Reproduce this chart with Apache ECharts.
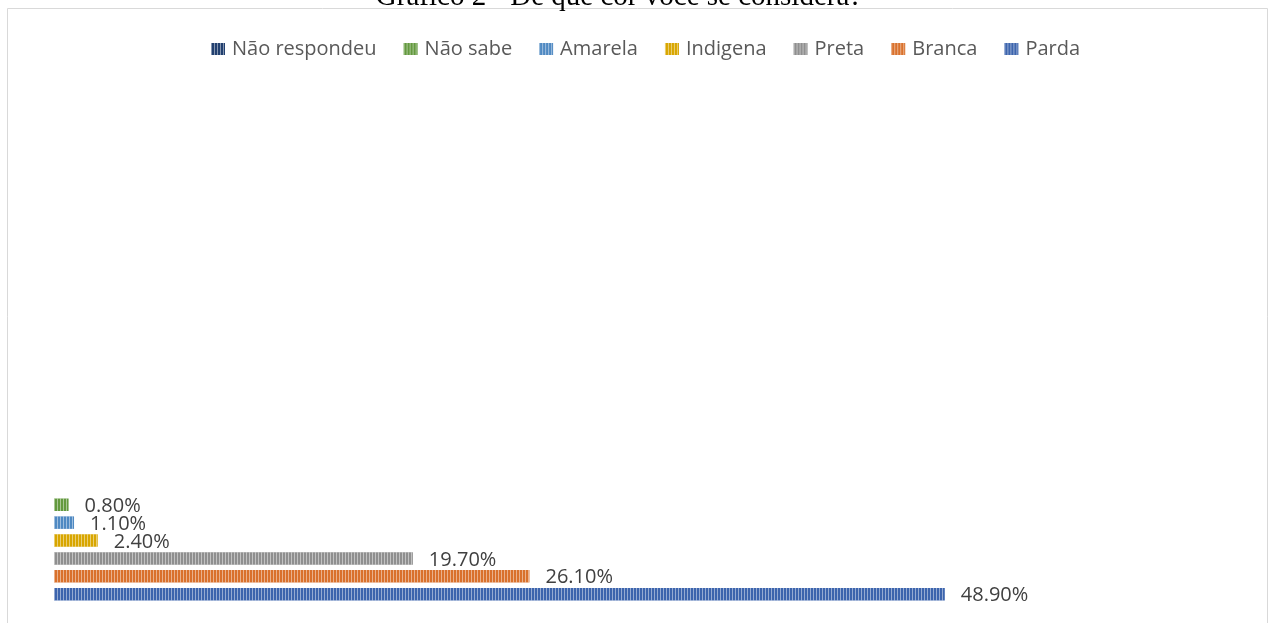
<!DOCTYPE html>
<html>
<head>
<meta charset="utf-8">
<script src="https://cdn.jsdelivr.net/npm/echarts@6/dist/echarts.min.js"></script>
<style>
html,body{margin:0;padding:0;background:#fff;}
#chart{width:1272px;height:623px;}
</style>
</head>
<body>
<div id="chart"></div>
<script>
// Data (series order top -> bottom within the cluster)
const seriesNames = ['Não respondeu', 'Não sabe', 'Amarela', 'Indigena', 'Preta', 'Branca', 'Parda'];
const seriesValues = [null, 0.8, 1.1, 2.4, 19.7, 26.1, 48.9];
const legendOrder = ['Não respondeu', 'Não sabe', 'Amarela', 'Indigena', 'Preta', 'Branca', 'Parda'];
const categories = [''];
const titleText = 'Gráfico 2 - De que cor você se considera?';

const colors = {
  'Parda': '#3c64ad',
  'Branca': '#d9712c',
  'Preta': '#8f8f8f',
  'Indigena': '#d8a600',
  'Amarela': '#4f89c2',
  'Não sabe': '#63993e',
  'Não respondeu': '#22406f'
};

const chart = echarts.init(document.getElementById('chart'));
const series = seriesNames.map((name, i) => ({
  name: name,
  type: 'bar',
  data: [seriesValues[i]],
  barWidth: 12.5,
  barGap: '43%',
  itemStyle: {
    color: colors[name],
    decal: {
      symbol: 'rect',
      symbolSize: 1,
      dashArrayX: [1, 2],
      dashArrayY: [1, 0],
      color: 'rgba(255,255,255,0.45)'
    }
  },
  label: {
    show: true,
    position: 'right',
    distance: 16,
    offset: [0, 1.5],
    fontFamily: 'Open Sans',
    fontSize: 20,
    color: '#404040',
    formatter: p => (p.value == null ? '' : p.value.toFixed(2) + '%')
  },
  emphasis: {disabled: true}
}));

chart.setOption({
  backgroundColor: '#fff',
  animation: false,
  title: {
    text: titleText,
    left: 614,
    textAlign: 'center',
    top: -22,
    textStyle: {fontFamily: 'Liberation Serif', fontSize: 29, fontWeight: 'normal', color: '#000'}
  },
  graphic: [{
    type: 'rect',
    shape: {x: 7.5, y: 8.5, width: 1260, height: 700},
    style: {fill: 'none', stroke: '#d9d9d9', lineWidth: 1},
    silent: true
  }],
  legend: {
    data: legendOrder,
    left: 206,
    top: 34,
    icon: 'rect',
    itemWidth: 14,
    itemHeight: 12,
    itemGap: 27,
    textStyle: {fontFamily: 'Open Sans', fontSize: 20, color: '#595959', padding: [0, 0, 0, 2]}
  },
  grid: {left: 54, top: 480, width: 1093, height: 121},
  xAxis: {
    type: 'value', min: 0, max: 60,
    show: false
  },
  yAxis: {
    type: 'category', data: categories,
    axisLine: {show: false}, axisTick: {show: false}, axisLabel: {show: false}
  },
  series: series
});
</script>
</body>
</html>
